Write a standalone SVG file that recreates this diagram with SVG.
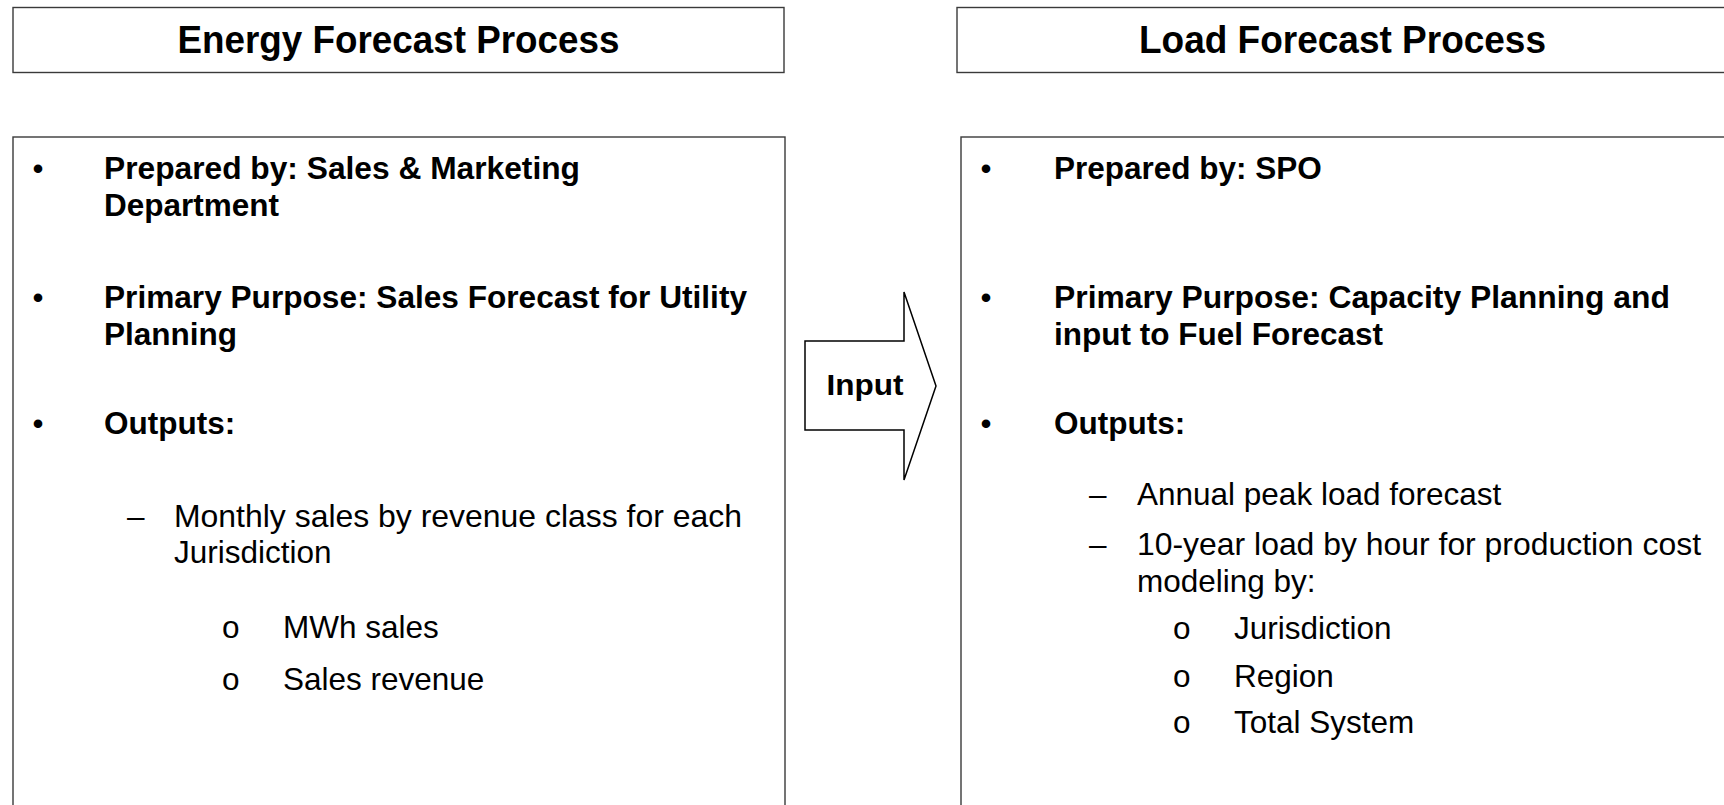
<svg xmlns="http://www.w3.org/2000/svg" width="1724" height="805" viewBox="0 0 1724 805">
<style>
.box{fill:#ffffff;stroke:#3a3a3a;stroke-width:1.4}
.title{font-family:"Liberation Sans",Arial,sans-serif;font-weight:bold;font-size:38.5px;fill:#000;text-anchor:middle}
.b{font-family:"Liberation Sans",Arial,sans-serif;font-weight:bold;font-size:31.5px;fill:#000}
.r{font-family:"Liberation Sans",Arial,sans-serif;font-size:31.5px;fill:#000}
.bul{font-family:"Liberation Sans",Arial,sans-serif;font-size:31.5px;fill:#000;text-anchor:middle}
.arrow{fill:#ffffff;stroke:#000;stroke-width:1.5}
</style>
<rect width="1724" height="805" fill="#ffffff"/>
<g id="energy-title">
<rect class="box" x="13" y="7.5" width="771" height="65"/>
<text class="title" x="398.5" y="53" textLength="442" lengthAdjust="spacingAndGlyphs">Energy Forecast Process</text>
</g>
<g id="load-title">
<rect class="box" x="957" y="7.5" width="790" height="65"/>
<text class="title" x="1342.5" y="53" textLength="407" lengthAdjust="spacingAndGlyphs">Load Forecast Process</text>
</g>
<g id="energy-body">
<rect class="box" x="13" y="137" width="772" height="720"/>
<text class="bul" x="38" y="179">•</text>
<text class="b" x="104" y="179" textLength="476" lengthAdjust="spacingAndGlyphs">Prepared by: Sales &amp; Marketing</text>
<text class="b" x="104" y="216">Department</text>
<text class="bul" x="38" y="308">•</text>
<text class="b" x="104" y="308" textLength="643" lengthAdjust="spacingAndGlyphs">Primary Purpose: Sales Forecast for Utility</text>
<text class="b" x="104" y="345">Planning</text>
<text class="bul" x="38" y="434">•</text>
<text class="b" x="104" y="434">Outputs:</text>
<text class="r" x="127" y="527">–</text>
<text class="r" x="174" y="527" textLength="568" lengthAdjust="spacingAndGlyphs">Monthly sales by revenue class for each</text>
<text class="r" x="174" y="563">Jurisdiction</text>
<text class="r" x="222" y="638">o</text>
<text class="r" x="283" y="638">MWh sales</text>
<text class="r" x="222" y="690">o</text>
<text class="r" x="283" y="690">Sales revenue</text>
</g>
<g id="load-body">
<rect class="box" x="961" y="137" width="800" height="720"/>
<text class="bul" x="986" y="179">•</text>
<text class="b" x="1054" y="179">Prepared by: SPO</text>
<text class="bul" x="986" y="308">•</text>
<text class="b" x="1054" y="308" textLength="616" lengthAdjust="spacingAndGlyphs">Primary Purpose: Capacity Planning and</text>
<text class="b" x="1054" y="345">input to Fuel Forecast</text>
<text class="bul" x="986" y="434">•</text>
<text class="b" x="1054" y="434">Outputs:</text>
<text class="r" x="1089" y="505">–</text>
<text class="r" x="1137" y="505">Annual peak load forecast</text>
<text class="r" x="1089" y="555">–</text>
<text class="r" x="1137" y="555" textLength="564" lengthAdjust="spacingAndGlyphs">10-year load by hour for production cost</text>
<text class="r" x="1137" y="592">modeling by:</text>
<text class="r" x="1173" y="639">o</text>
<text class="r" x="1234" y="639">Jurisdiction</text>
<text class="r" x="1173" y="687">o</text>
<text class="r" x="1234" y="687">Region</text>
<text class="r" x="1173" y="733">o</text>
<text class="r" x="1234" y="733">Total System</text>
</g>
<g id="connectors">
<g id="input-arrow">
<polygon class="arrow" points="805,341 904,341 904,292 936,386 904,480 904,430 805,430"/>
<text class="b" x="865" y="395" text-anchor="middle" style="font-size:30px" textLength="77" lengthAdjust="spacingAndGlyphs">Input</text>
</g>
</g>
</svg>
